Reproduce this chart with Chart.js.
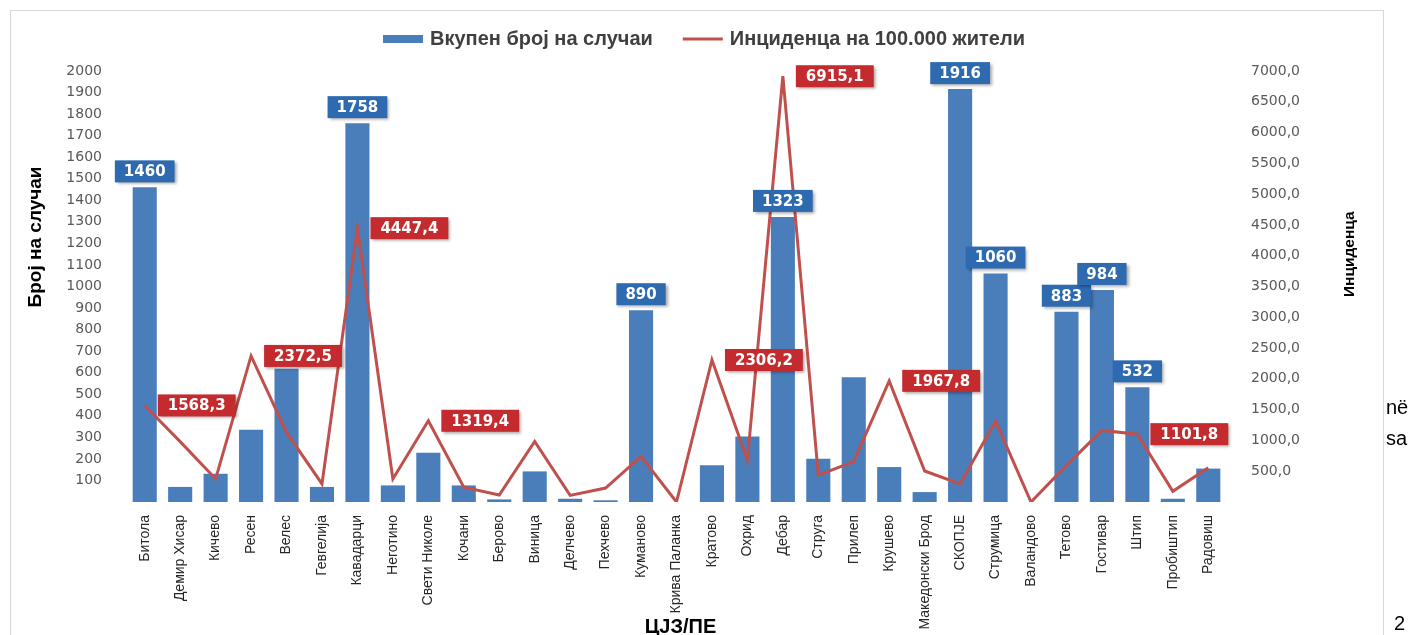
<!DOCTYPE html>
<html>
<head>
<meta charset="utf-8">
<script src="https://cdn.jsdelivr.net/npm/chart.js@4.4.0/dist/chart.umd.min.js"></script>
<style>
  html, body { margin: 0; padding: 0; background: #fff; }
  #wrap { position: relative; width: 1408px; height: 635px; overflow: hidden; }
  #frame { position: absolute; left: 10px; top: 10px; width: 1374px; height: 650px; border: 1px solid #d9d9d9; box-sizing: border-box; }
  canvas { position: absolute; left: 0; top: 0; }
  .doc { position: absolute; font-family: "Liberation Sans", Arial, sans-serif; font-size: 20px; color: #000; }
</style>
</head>
<body>
<div id="wrap">
  <div id="frame"></div>
  <canvas id="chart" width="1408" height="635"></canvas>
  <span class="doc" style="left:1386px; top:396px;">në</span>
  <span class="doc" style="left:1386px; top:427px;">sa</span>
  <span class="doc" style="left:1394px; top:612px;">2</span>
</div>
<script>
const categories = ['Битола', 'Демир Хисар', 'Кичево', 'Ресен', 'Велес', 'Гевгелија', 'Кавадарци', 'Неготино',
    'Свети Николе', 'Кочани', 'Берово', 'Виница', 'Делчево', 'Пехчево', 'Куманово', 'Крива Паланка', 'Кратово',
    'Охрид', 'Дебар', 'Струга', 'Прилеп', 'Крушево', 'Македонски Брод', 'СКОПЈЕ', 'Струмица', 'Валандово',
    'Тетово', 'Гостивар', 'Штип', 'Пробиштип', 'Радовиш'];

// Вкупен број на случаи
const cases = [1460, 70, 131, 335, 618, 70, 1758, 77, 229, 77, 12, 142, 15, 8, 890, 0, 170,
    304, 1323, 201, 579, 162, 46, 1916, 1060, 0, 883, 984, 532, 15, 155];

// Инциденца на 100.000 жители
const incidence = [1568.3, 980, 375, 2372.5, 1130, 293, 4447.4, 375, 1319.4, 239, 114, 983, 108, 227, 741, 0, 2306.2,
    682, 6915.1, 438, 655, 1967.8, 503, 292, 1315, 0, 595, 1163, 1101.8, 173, 557];

// which points carry a value box
const barLabelled = ['Битола', 'Кавадарци', 'Куманово', 'Дебар', 'СКОПЈЕ', 'Струмица', 'Тетово', 'Гостивар', 'Штип'];
const lineLabelled = ['Битола', 'Ресен', 'Кавадарци', 'Свети Николе', 'Кратово', 'Дебар', 'Крушево', 'Штип'];

const casesMax = 2000;
const incidenceMax = 7000;

const fmtComma = v => v.toFixed(1).replace('.', ',');

function drawBox(ctx, x, y, w, h, color, txt) {
    ctx.save();
    ctx.shadowColor = 'rgba(0,0,0,0.35)';
    ctx.shadowBlur = 3;
    ctx.shadowOffsetX = 2;
    ctx.shadowOffsetY = 2;
    ctx.fillStyle = color;
    ctx.fillRect(x, y, w, h);
    ctx.restore();
    ctx.fillStyle = '#ffffff';
    ctx.fillText(txt, x + w / 2, y + h / 2 + 1);
}

const valueBoxes = {
    id: 'valueBoxes',
    afterDatasetsDraw(chart) {
        const ctx = chart.ctx;
        ctx.save();
        ctx.font = 'bold 15px "DejaVu Sans"';
        ctx.textAlign = 'center';
        ctx.textBaseline = 'middle';
        const h = 22;
        chart.getDatasetMeta(0).data.forEach((bar, i) => {
            if (!barLabelled.includes(categories[i])) return;
            const txt = String(cases[i]);
            const w = ctx.measureText(txt).width + 18;
            drawBox(ctx, bar.x - w / 2, bar.y - 5 - h, w, h, '#2d6ab0', txt);
        });
        chart.getDatasetMeta(1).data.forEach((pt, i) => {
            if (!lineLabelled.includes(categories[i])) return;
            const txt = fmtComma(incidence[i]);
            const w = ctx.measureText(txt).width + 20;
            drawBox(ctx, pt.x + 13, pt.y - h / 2, w, h, '#c42b2f', txt);
        });
        ctx.restore();
    }
};

// legend + axis titles
const decorations = {
    id: 'decorations',
    afterDraw(chart) {
        const {ctx, chartArea: a} = chart;
        const hgt = a.bottom - a.top;
        const ds = chart.data.datasets;

        // legend
        ctx.save();
        ctx.font = 'bold 20px "Liberation Sans"';
        ctx.textBaseline = 'middle';
        ctx.textAlign = 'left';
        const sw = 40, gap = 7, itemGap = 30;
        const w1 = ctx.measureText(ds[0].label).width;
        const w2 = ctx.measureText(ds[1].label).width;
        const total = sw + gap + w1 + itemGap + sw + gap + w2;
        let x = chart.width / 2 - total / 2;
        const y = 39;
        ctx.fillStyle = ds[0].backgroundColor;
        ctx.fillRect(x, y - 4, sw, 8);
        x += sw + gap;
        ctx.fillStyle = '#404040';
        ctx.fillText(ds[0].label, x, y);
        x += w1 + itemGap;
        ctx.strokeStyle = ds[1].borderColor;
        ctx.lineWidth = 3;
        ctx.beginPath();
        ctx.moveTo(x, y);
        ctx.lineTo(x + sw, y);
        ctx.stroke();
        x += sw + gap;
        ctx.fillText(ds[1].label, x, y);
        ctx.restore();

        ctx.save();
        ctx.fillStyle = '#000';
        ctx.textAlign = 'center';
        ctx.textBaseline = 'middle';
        ctx.font = 'bold 19px "Liberation Sans"';
        ctx.translate(36, a.top + hgt * 0.385);
        ctx.rotate(-Math.PI / 2);
        ctx.fillText('Број на случаи', 0, 0);
        ctx.restore();

        ctx.save();
        ctx.fillStyle = '#000';
        ctx.textAlign = 'center';
        ctx.textBaseline = 'middle';
        ctx.font = 'bold 15.5px "Liberation Sans"';
        ctx.translate(1350, a.top + hgt * 0.425);
        ctx.rotate(-Math.PI / 2);
        ctx.fillText('Инциденца', 0, 0);
        ctx.restore();

        ctx.save();
        ctx.fillStyle = '#000';
        ctx.textAlign = 'center';
        ctx.textBaseline = 'middle';
        ctx.font = 'bold 20px "Liberation Sans"';
        ctx.fillText('ЦЈЗ/ПЕ', (a.left + a.right) / 2 + 4, 627);
        ctx.restore();
    }
};

new Chart(document.getElementById('chart').getContext('2d'), {
    type: 'bar',
    data: {
        labels: categories,
        datasets: [{
            type: 'bar',
            label: 'Вкупен број на случаи',
            data: cases,
            backgroundColor: '#4a7ebb',
            yAxisID: 'y',
            order: 2,
            barPercentage: 0.68,
            categoryPercentage: 1.0
        }, {
            type: 'line',
            label: 'Инциденца на 100.000 жители',
            data: incidence,
            borderColor: '#c0504d',
            backgroundColor: '#c0504d',
            borderWidth: 3,
            pointRadius: 0,
            tension: 0,
            yAxisID: 'y1',
            order: 1
        }]
    },
    options: {
        responsive: false,
        animation: false,
        devicePixelRatio: 1,
        layout: { padding: { top: 71, left: 0, right: 0, bottom: 0 } },
        plugins: {
            tooltip: { enabled: false },
            legend: { display: false }
        },
        scales: {
            x: {
                grid: { display: false },
                border: { display: false },
                ticks: {
                    autoSkip: false,
                    maxRotation: 90,
                    minRotation: 90,
                    padding: 5,
                    color: '#262626',
                    font: { family: '"Liberation Sans"', size: 14 }
                },
                afterFit: s => { s.height = 133; }
            },
            y: {
                position: 'left',
                min: 0,
                max: casesMax,
                grid: { display: false },
                border: { display: false },
                ticks: {
                    stepSize: 100,
                    autoSkip: false,
                    padding: 17,
                    color: '#595959',
                    font: { family: '"DejaVu Sans"', size: 14 },
                    callback: v => v === 0 ? '' : v
                },
                afterFit: s => { s.width = 127; }
            },
            y1: {
                position: 'right',
                min: 0,
                max: incidenceMax,
                grid: { display: false },
                border: { display: false },
                ticks: {
                    stepSize: 500,
                    autoSkip: false,
                    padding: 17,
                    color: '#595959',
                    font: { family: '"DejaVu Sans"', size: 14 },
                    callback: v => v === 0 ? '' : fmtComma(v)
                },
                afterFit: s => { s.width = 182; }
            }
        }
    },
    plugins: [valueBoxes, decorations]
});
</script>
</body>
</html>
